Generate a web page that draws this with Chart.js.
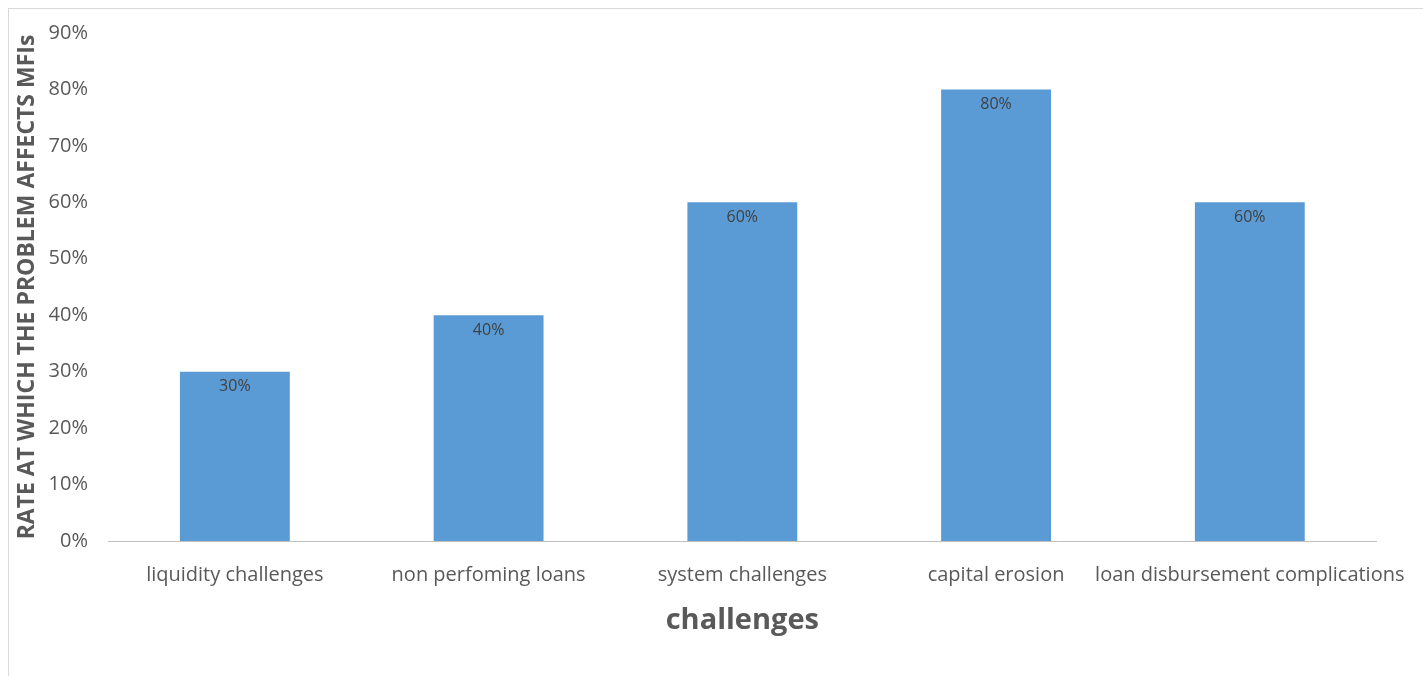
<!DOCTYPE html>
<html>
<head>
<meta charset="utf-8">
<script src="https://cdn.jsdelivr.net/npm/chart.js@4"></script>
<style>
  html, body { margin: 0; padding: 0; background: #fff; }
  #wrap { position: relative; width: 1423px; height: 676px; }
  #frame {
    position: absolute; left: 8px; top: 8px; right: 0; bottom: 0;
    border-left: 1px solid #d9d9d9; border-top: 1px solid #d9d9d9;
    pointer-events: none;
  }
</style>
</head>
<body>
<div id="wrap">
  <canvas id="myChart" width="1423" height="676"></canvas>
  <div id="frame"></div>
</div>
<script>
// categories and values (percent)
const challenges = [
  'liquidity challenges',
  'non perfoming loans',
  'system challenges',
  'capital erosion',
  'loan disbursement complications'
];
const rates = [30, 40, 60, 80, 60];
const yTicks = [0, 10, 20, 30, 40, 50, 60, 70, 80, 90];

const FONT = "'Open Sans', 'Noto Sans', sans-serif";

// labels written just inside the top of each bar
const barLabels = {
  id: 'barLabels',
  afterDatasetsDraw(chart) {
    const ctx = chart.ctx;
    const meta = chart.getDatasetMeta(0);
    ctx.save();
    ctx.font = '16px ' + FONT;
    ctx.fillStyle = '#404040';
    ctx.textAlign = 'center';
    ctx.textBaseline = 'middle';
    meta.data.forEach((bar, i) => {
      ctx.fillText(rates[i] + '%', bar.x, bar.y + 15);
    });
    ctx.restore();
  }
};

const ctx = document.getElementById('myChart').getContext('2d');
const chart = new Chart(ctx, {
  type: 'bar',
  data: {
    labels: challenges,
    datasets: [{
      data: rates,
      backgroundColor: '#5b9bd5',
      borderWidth: 0,
      categoryPercentage: 1,
      barPercentage: 0.433
    }]
  },
  options: {
    responsive: false,
    animation: false,
    layout: { padding: { left: 8, top: 33, right: 45, bottom: 0 } },
    plugins: {
      legend: { display: false },
      tooltip: { enabled: false }
    },
    scales: {
      x: {
        grid: { display: false },
        border: { display: true, color: '#bfbfbf', width: 1 },
        ticks: {
          color: '#595959',
          font: { family: FONT, size: 20 },
          padding: 14,
          maxRotation: 0,
          autoSkip: false
        },
        title: {
          display: true,
          text: 'challenges',
          color: '#595959',
          font: { family: FONT, size: 29, weight: 'bold' },
          padding: { top: 0, bottom: 38 }
        },
        afterFit(scale) { scale.height = 135; }
      },
      y: {
        min: 0,
        max: 90,
        afterBuildTicks(scale) { scale.ticks = yTicks.map(v => ({ value: v })); },
        grid: { display: false },
        border: { display: false },
        ticks: {
          color: '#595959',
          font: { family: FONT, size: 20 },
          padding: 12,
          callback: v => v + '%'
        },
        title: {
          display: true,
          text: 'RATE AT WHICH THE PROBLEM AFFECTS MFIs',
          color: '#595959',
          font: { family: FONT, size: 23, weight: 'bold' },
          padding: { top: 6, bottom: 0 }
        },
        afterFit(scale) { scale.width = 100; }
      }
    }
  },
  plugins: [barLabels]
});
</script>
</body>
</html>
